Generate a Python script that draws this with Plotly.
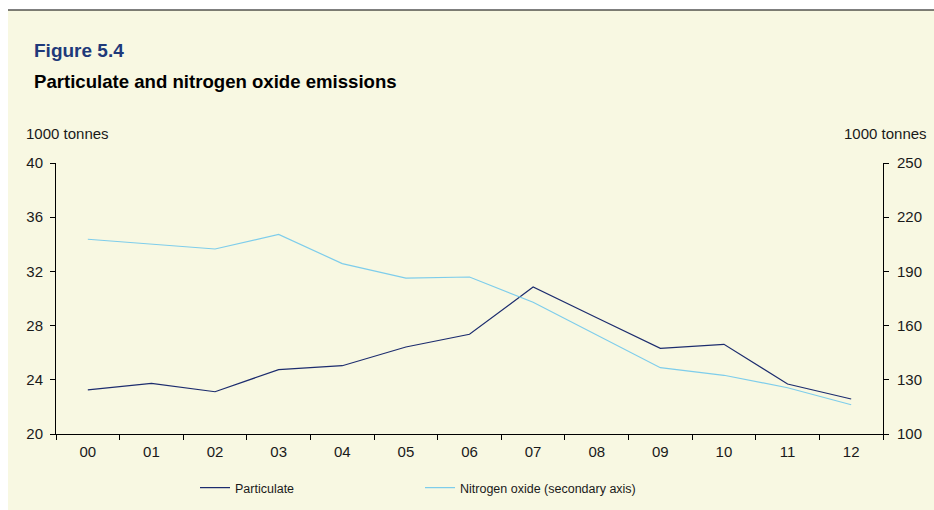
import plotly.graph_objects as go

years = ["00", "01", "02", "03", "04", "05", "06", "07", "08", "09", "10", "11", "12"]
particulate = [23.25, 23.74, 23.12, 24.75, 25.04, 26.42, 27.36, 30.85, 28.58, 26.32, 26.62, 23.69, 22.58]
nitrogen_oxide = [207.8, 205.2, 202.4, 210.5, 194.3, 186.3, 186.9, 172.9, 154.8, 136.7, 132.5, 125.6, 116.2]
left_ticks = [20, 24, 28, 32, 36, 40]
right_ticks = [100, 130, 160, 190, 220, 250]

FONT = "Liberation Sans, Arial, sans-serif"
BG = "#F8F8E2"

fig = go.Figure()
fig.add_trace(go.Scatter(x=years, y=particulate, name="Particulate", mode="lines",
                         line=dict(color="#1C2C6E", width=1.2), yaxis="y"))
fig.add_trace(go.Scatter(x=years, y=nitrogen_oxide, name="Nitrogen oxide (secondary axis)", mode="lines",
                         line=dict(color="#7ECDEB", width=1.2), yaxis="y2"))

L, R, T, B = 56, 883, 163, 434
W, H = R - L, B - T

def px(x):
    return (x - L) / W

def py(y):
    return (B - y) / H

fig.update_layout(
    width=934, height=510,
    margin=dict(l=L, r=934 - R, t=T, b=510 - B, autoexpand=False),
    paper_bgcolor="white", plot_bgcolor=BG,
    font=dict(family=FONT, size=15, color="#1a1a1a"),
    showlegend=True,
    legend=dict(orientation="h", x=px(195), xanchor="left", y=py(488), yanchor="middle",
                font=dict(size=12.5), itemwidth=30, tracegroupgap=0, entrywidth=180,
                bgcolor="rgba(0,0,0,0)"),
    xaxis=dict(type="category", showline=True, linecolor="black", linewidth=1,
               ticks="outside", ticklen=5, tickcolor="black", tickson="boundaries",
               showgrid=False, zeroline=False, range=[-0.5, 12.5],
               tickfont=dict(size=15), ticklabelstandoff=4),
    yaxis=dict(range=[20, 40], tickvals=left_ticks, showline=True, linecolor="black", linewidth=1,
               ticks="outside", ticklen=5, tickcolor="black", showgrid=False, zeroline=False,
               tickfont=dict(size=15), ticklabelstandoff=4),
    yaxis2=dict(range=[100, 250], tickvals=right_ticks, overlaying="y", side="right",
                showline=True, linecolor="black", linewidth=1,
                ticks="outside", ticklen=5, tickcolor="black", showgrid=False, zeroline=False,
                tickfont=dict(size=15), ticklabelstandoff=5),
    shapes=[
        dict(type="rect", xref="paper", yref="paper", x0=px(8), x1=px(940), y0=py(10), y1=py(515),
             fillcolor=BG, line=dict(width=0), layer="below"),
        dict(type="line", xref="paper", yref="paper", x0=px(8), x1=px(940), y0=py(10), y1=py(10),
             line=dict(color="black", width=1.2)),
    ],
    annotations=[
        dict(text="<b>Figure 5.4</b>", xref="paper", yref="paper", x=px(32), y=py(50),
             xanchor="left", yanchor="middle", showarrow=False,
             font=dict(size=19, color="#1F3A7A")),
        dict(text="<b>Particulate and nitrogen oxide emissions</b>", xref="paper", yref="paper",
             x=px(32), y=py(81), xanchor="left", yanchor="middle", showarrow=False,
             font=dict(size=18.6, color="black")),
        dict(text="1000 tonnes", xref="paper", yref="paper", x=px(24), y=py(133),
             xanchor="left", yanchor="middle", showarrow=False, font=dict(size=15)),
        dict(text="1000 tonnes", xref="paper", yref="paper", x=px(929), y=py(133),
             xanchor="right", yanchor="middle", showarrow=False, font=dict(size=15)),
    ],
)

fig.write_html("out.html", config={"displayModeBar": False},
               post_script="document.body.style.margin='0';document.body.style.overflow='hidden';")
